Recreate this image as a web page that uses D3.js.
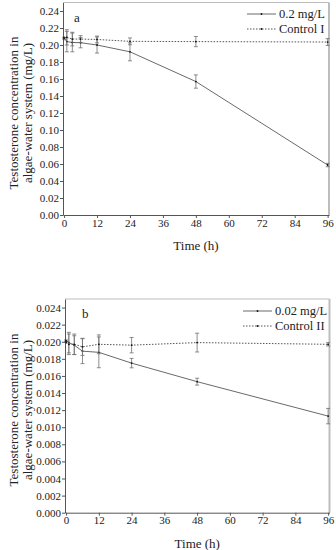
<!DOCTYPE html>
<html>
<head>
<meta charset="utf-8">
<script src="https://cdn.jsdelivr.net/npm/d3@7.9.0/dist/d3.min.js"></script>
<style>
  body { margin: 0; background: #fff; }
  svg { display: block; }
  svg text { font-family: "Liberation Serif", "Times New Roman", serif; }
</style>
</head>
<body>
<div id="chart"></div>
<script>
// sampling times (h), shared by both panels
const times = [0, 1, 3, 6, 12, 24, 48, 96];
const xTicks = [0, 12, 24, 36, 48, 60, 72, 84, 96];

// panel a
const treatA = [0.208, 0.204, 0.203, 0.2027, 0.200, 0.192, 0.157, 0.0588];
const treatAErr = [0, 0.012, 0.011, 0.006, 0.0095, 0.0106, 0.0078, 0.002];
const controlA = [0.208, 0.209, 0.207, 0.207, 0.2065, 0.2043, 0.204, 0.2035];
const controlAErr = [0, 0.009, 0.008, 0.004, 0.004, 0.004, 0.006, 0.004];
const yTicksA = [0, 0.02, 0.04, 0.06, 0.08, 0.10, 0.12, 0.14, 0.16, 0.18, 0.20, 0.22, 0.24];

// panel b
const treatB = [0.0201, 0.0199, 0.0196, 0.0189, 0.01876, 0.0175, 0.01533, 0.0113];
const treatBErr = [0, 0.0012, 0.0011, 0.00146, 0.0018, 0.00055, 0.0004, 0.0009];
const controlB = [0.0199, 0.0197, 0.0197, 0.0194, 0.0197, 0.0196, 0.0199, 0.0197];
const controlBErr = [0, 0.0012, 0.0012, 0.001, 0.0011, 0.0009, 0.0011, 0.0002];
const yTicksB = [0, 0.002, 0.004, 0.006, 0.008, 0.010, 0.012, 0.014, 0.016, 0.018, 0.020, 0.022, 0.024];

const width = 336;
const height = 550;

const svg = d3.select('#chart')
  .append('svg')
  .attr('width', width)
  .attr('height', height);

function drawPanel(cfg) {
  const g = svg.append('g');

  const x = d3.scaleLinear()
    .domain([-0.4, 96.5])
    .range([cfg.left, cfg.right]);

  const y = d3.scaleLinear()
    .domain([0, cfg.yMax])
    .range([cfg.bottom, cfg.top]);

  // light frame on top and right
  g.append('line')
    .attr('x1', cfg.left).attr('x2', cfg.right)
    .attr('y1', cfg.top).attr('y2', cfg.top)
    .attr('stroke', '#bdbdbd').attr('stroke-width', 1.2);
  g.append('line')
    .attr('x1', cfg.right).attr('x2', cfg.right)
    .attr('y1', cfg.top).attr('y2', cfg.bottom)
    .attr('stroke', '#bdbdbd').attr('stroke-width', 2);

  // axes
  const xAxis = g.append('g')
    .attr('transform', `translate(0, ${cfg.bottom})`)
    .call(d3.axisBottom(x).tickValues(xTicks).tickSize(3).tickSizeOuter(0).tickPadding(1));

  const yAxis = g.append('g')
    .attr('transform', `translate(${cfg.left}, 0)`)
    .call(d3.axisLeft(y).tickValues(cfg.yTicks).tickFormat(d3.format(cfg.fmt))
      .tickSize(3).tickSizeOuter(0).tickPadding(1));

  [xAxis, yAxis].forEach((a) => {
    a.attr('font-family', null).attr('font-size', 11);
    a.select('.domain').attr('stroke', '#555');
    a.selectAll('.tick line').attr('stroke', '#555');
    a.selectAll('.tick text').attr('fill', '#222');
  });

  const series = [
    { values: cfg.treat, err: cfg.treatErr, dash: null, color: '#6a6a6a' },
    { values: cfg.control, err: cfg.controlErr, dash: '1.5,1.5', color: '#555' },
  ];

  const line = d3.line()
    .x((d) => x(d[0]))
    .y((d) => y(d[1]));

  series.forEach((s) => {
    const pts = times.map((t, i) => [t, s.values[i], s.err[i]]);

    g.append('path')
      .datum(pts)
      .attr('d', line)
      .attr('fill', 'none')
      .attr('stroke', s.color)
      .attr('stroke-width', 1)
      .attr('stroke-dasharray', s.dash);

    const bars = g.append('g')
      .selectAll('g')
      .data(pts.filter((d) => d[2] > 0))
      .join('g')
      .attr('stroke', '#707070')
      .attr('stroke-width', 0.8);

    bars.append('line')
      .attr('x1', (d) => x(d[0])).attr('x2', (d) => x(d[0]))
      .attr('y1', (d) => y(d[1] - d[2])).attr('y2', (d) => y(d[1] + d[2]));
    bars.append('line')
      .attr('x1', (d) => x(d[0]) - 2).attr('x2', (d) => x(d[0]) + 2)
      .attr('y1', (d) => y(d[1] - d[2])).attr('y2', (d) => y(d[1] - d[2]));
    bars.append('line')
      .attr('x1', (d) => x(d[0]) - 2).attr('x2', (d) => x(d[0]) + 2)
      .attr('y1', (d) => y(d[1] + d[2])).attr('y2', (d) => y(d[1] + d[2]));

    g.append('g')
      .selectAll('circle')
      .data(pts)
      .join('circle')
      .attr('cx', (d) => x(d[0]))
      .attr('cy', (d) => y(d[1]))
      .attr('r', 0.9)
      .attr('fill', '#111');
  });

  // start marker
  g.append('path')
    .attr('transform', `translate(${x(times[0])}, ${y(cfg.treat[0])})`)
    .attr('d', d3.symbol(d3.symbolAsterisk || d3.symbolCross, 14))
    .attr('fill', '#222')
    .attr('stroke', '#222')
    .attr('stroke-width', 0.6);

  // panel letter
  g.append('text')
    .attr('x', cfg.letterX)
    .attr('y', cfg.top + 19)
    .attr('font-size', 13)
    .attr('fill', '#222')
    .text(cfg.letter);

  // legend
  const legend = g.append('g');
  cfg.legend.forEach((label, i) => {
    const ly = cfg.legendY + i * 15;
    legend.append('line')
      .attr('x1', cfg.legendX).attr('x2', cfg.legendX + 29)
      .attr('y1', ly).attr('y2', ly)
      .attr('stroke', series[i].color)
      .attr('stroke-dasharray', series[i].dash);
    legend.append('circle')
      .attr('cx', cfg.legendX + 14.5).attr('cy', ly).attr('r', 0.9).attr('fill', '#111');
    legend.append('text')
      .attr('x', cfg.legendX + 32)
      .attr('y', ly + 4)
      .attr('font-size', 12.5)
      .attr('fill', '#222')
      .text(label);
  });

  // y title
  const yt = g.append('text')
    .attr('transform', `translate(0, ${cfg.titleY}) rotate(-90)`)
    .attr('text-anchor', 'middle')
    .attr('font-size', 13)
    .attr('fill', '#222');
  yt.append('tspan').attr('x', 0).attr('y', 18).text('Testosterone concentration in');
  yt.append('tspan').attr('x', 0).attr('y', 32).text('algae-water system (mg/L)');

  // x title
  g.append('text')
    .attr('x', (cfg.left + cfg.right) / 2)
    .attr('y', cfg.bottom + 35)
    .attr('text-anchor', 'middle')
    .attr('font-size', 13)
    .attr('fill', '#222')
    .text('Time (h)');
}

drawPanel({
  left: 63, right: 329, top: 2.5, bottom: 215,
  yMax: 0.25, yTicks: yTicksA, fmt: '.2f',
  treat: treatA, treatErr: treatAErr, control: controlA, controlErr: controlAErr,
  letter: 'a', letterX: 74,
  legend: ['0.2 mg/L', 'Control I'], legendX: 247, legendY: 14,
  titleY: 113,
});

drawPanel({
  left: 65, right: 329.5, top: 299, bottom: 512.7,
  yMax: 0.025, yTicks: yTicksB, fmt: '.3f',
  treat: treatB, treatErr: treatBErr, control: controlB, controlErr: controlBErr,
  letter: 'b', letterX: 82,
  legend: ['0.02 mg/L', 'Control II'], legendX: 243, legendY: 311,
  titleY: 410,
});
</script>
</body>
</html>
